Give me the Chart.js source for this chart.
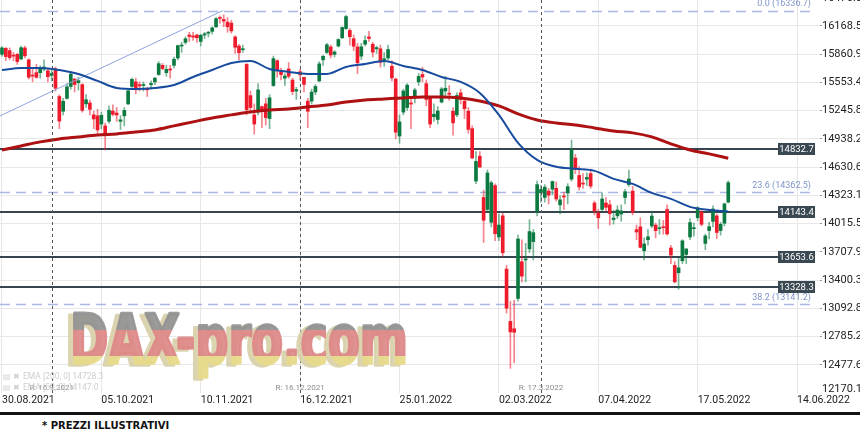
<!DOCTYPE html>
<html>
<head>
<meta charset="utf-8">
<script src="https://cdn.jsdelivr.net/npm/chart.js@4.4.1/dist/chart.umd.min.js"></script>
<style>
  body { margin: 0; background: #fff; width: 860px; height: 432px; overflow: hidden; }
  #wrap { position: relative; width: 860px; height: 410px; }
  #rule { height: 3px; background: #141414; margin-top: 2px; }
  #note { font: bold 10px "DejaVu Sans", sans-serif; color: #111; padding-left: 42px; margin-top: 5px; line-height: 12px; }
</style>
</head>
<body>
<div id="wrap"><canvas id="daxChart" width="860" height="410"></canvas></div>
<div id="rule"></div>
<div id="note">* PREZZI ILLUSTRATIVI</div>
<script>
// DAX daily candles, 30.08.2021 .. 27.05.2022 (index = trading day)
const opens = [
  15860,15925,15900,15850,15860,15810,15930,15800,15630,15660,
  15660,15700,15680,15630,15700,15400,15240,15380,15510,15590,
  15550,15530,15320,15330,15200,15190,15100,15080,15130,15240,
  15220,15130,15190,15320,15510,15560,15530,15520,15480,15530,
  15560,15640,15740,15660,15690,15740,15820,15950,15990,16070,
  16060,16070,16000,16070,16090,16110,16160,16260,16240,16210,
  16200,16050,15950,15910,15750,15410,15200,15230,15290,15320,
  15160,15520,15790,15670,15600,15700,15580,15460,15670,15610,
  15350,15350,15450,15570,15800,15880,15940,15860,15950,16040,
  16140,16120,16030,15940,15840,15970,16050,15970,15920,15920,
  15800,15820,15730,15590,14970,15230,15280,15330,15400,15560,
  15640,15540,15380,15180,15150,15340,15460,15430,15240,15200,
  15440,15350,15240,15050,14480,14750,14300,14170,14030,14430,
  13870,14100,13520,12950,12870,13200,13600,13620,13740,13820,
  14150,14350,14300,14370,14390,14400,14220,14310,14350,14500,
  14730,14540,14450,14500,14560,14240,14130,14170,14240,14220,
  14060,14100,14120,14300,14440,14370,13950,13980,13720,13840,
  13990,14000,13960,13980,14170,13750,13560,13480,13610,13680,
  13870,13960,14080,14140,13800,13940,14040,14100,13940,14020,
  14250
];
const highs = [
  15945,15935,15930,15880,15870,15950,15950,15810,15700,15750,
  15735,15800,15700,15700,15720,15420,15380,15540,15660,15600,
  15610,15540,15420,15360,15240,15260,15230,15110,15300,15310,
  15280,15190,15280,15470,15600,15600,15560,15560,15500,15570,
  15610,15780,15760,15740,15740,15830,15960,15990,16050,16100,
  16100,16080,16080,16100,16110,16160,16260,16280,16290,16260,
  16230,16060,15970,15960,15760,15460,15320,15540,15300,15380,
  15420,15840,15800,15710,15650,15770,15600,15500,15700,15610,
  15380,15480,15530,15780,15850,15980,15960,15900,16030,16160,
  16285,16140,16070,15980,15980,16060,16110,15990,15950,15960,
  15880,15960,15790,15600,15200,15480,15540,15400,15490,15650,
  15720,15580,15390,15320,15290,15500,15620,15520,15280,15440,
  15480,15390,15280,15080,14800,14800,14380,14600,14480,14450,
  14120,14130,13560,13170,13180,13890,13840,13800,14060,13950,
  14480,14430,14440,14400,14480,14470,14320,14360,14450,14925,
  14770,14640,14560,14570,14610,14260,14170,14350,14300,14270,
  14160,14210,14220,14390,14600,14420,14000,14080,13860,13950,
  14150,14020,14060,14050,14220,13780,13600,13640,13840,13740,
  14070,14020,14200,14170,13900,14030,14210,14120,14030,14240,
  14480
];
const lows = [
  15840,15790,15800,15790,15750,15800,15820,15590,15560,15600,
  15600,15680,15560,15570,15460,15050,15200,15370,15480,15450,
  15470,15230,15280,15200,15050,15000,15050,14818,15110,15190,
  15130,15040,15080,15310,15500,15430,15460,15460,15400,15480,
  15530,15630,15690,15620,15600,15710,15800,15880,15970,16000,
  16010,15990,15950,16030,16050,16080,16150,16200,16160,16100,
  16090,15870,15800,15880,15200,15240,14990,15200,15060,15090,
  15050,15510,15610,15580,15520,15600,15420,15370,15580,15450,
  15060,15320,15420,15560,15740,15870,15820,15830,15940,16030,
  16130,15960,15900,15650,15800,15950,16000,15830,15870,15720,
  15730,15800,15570,14940,14890,15200,15250,15050,15330,15520,
  15560,15300,15060,15130,15100,15330,15400,15360,14980,15180,
  15320,15160,15000,14720,14450,14630,13810,14150,13980,13830,
  13830,13660,13040,12439,12500,13170,13380,13380,13700,13620,
  14100,14250,14250,14230,14330,14260,14120,14170,14230,14480,
  14560,14380,14400,14430,14400,14110,13960,14150,14150,14000,
  14010,14070,14040,14230,14420,14110,13840,13750,13620,13780,
  13970,13860,13900,13900,13890,13580,13370,13300,13580,13580,
  13840,13880,14050,13990,13730,13850,13980,13850,13890,13990,
  14240
];
const closes = [
  15930,15835,15824,15840,15781,15932,15843,15610,15623,15609,
  15701,15722,15616,15651,15490,15132,15348,15506,15644,15531,
  15573,15249,15365,15260,15156,15036,15195,14973,15251,15206,
  15199,15146,15249,15462,15587,15474,15516,15523,15473,15543,
  15600,15758,15705,15696,15689,15806,15955,15960,16030,16054,
  16047,16040,16067,16083,16094,16148,16248,16251,16221,16160,
  16115,15937,15878,15917,15257,15280,15100,15472,15263,15170,
  15386,15813,15687,15639,15623,15621,15454,15476,15636,15532,
  15239,15448,15510,15756,15838,15964,15853,15885,16021,16152,
  16271,16052,15948,15768,15942,16010,16032,15883,15933,15773,
  15810,15912,15603,15011,15123,15460,15524,15318,15471,15619,
  15613,15368,15100,15207,15242,15482,15490,15425,15113,15412,
  15370,15267,15042,14731,14693,14631,14052,14567,14461,13905,
  14000,13698,13094,12835,12832,13848,13443,13628,13929,13917,
  14440,14388,14413,14326,14474,14284,14274,14306,14418,14821,
  14606,14415,14446,14519,14424,14152,14079,14284,14193,14124,
  14076,14164,14154,14363,14502,14142,13924,13757,13794,13872,
  14098,13939,13970,13971,13903,13674,13381,13534,13828,13740,
  14027,13964,14186,14008,13882,13982,14175,13919,14008,14231,
  14462
];

// EMA values every 5 trading days
const emaIdx = [0,5,10,15,20,25,30,35,40,45,50,55,60,65,70,75,80,85,90,95,
                100,105,110,115,120,125,130,135,140,145,150,155,160,165,170,175,180,185,190];
const ema50 = [15689,15711,15711,15689,15646,15570,15494,15483,15494,15526,15613,15689,15766,15787,15700,15668,15646,15646,15722,15755,
               15787,15733,15689,15613,15559,15439,15200,14895,14710,14634,14612,14590,14503,14448,14350,14285,14198,14165,14147.0];
const ema200 = [14818,14862,14906,14938,14960,14982,14993,15014,15036,15080,15124,15167,15200,15232,15254,15265,15287,15308,15341,15363,
                15374,15385,15395,15395,15385,15352,15298,15211,15145,15112,15091,15058,15025,15004,14960,14884,14818,14775,14728.3];

// trend line
const trendX = [-0.52, 57.8];
const trendY = [15189, 16336.7];

// levels
const fibLevels = [16336.7, 14362.5, 13141.2];
const fibNames = ['0.0', '23.6', '38.2'];
const supportLevels = [14832.7, 14143.4, 13653.6, 13328.3];

// reversal markers
const rIdx = [13, 78, 141];
const rLabels = ['R: 16.9.2021', 'R: 16.12.2021', 'R: 17.3.2022'];

// axes
const xTickIdx = [0, 26, 52, 78, 104, 130, 156, 182, 208];
const xLabels = ['30.08.2021', '05.10.2021', '10.11.2021', '16.12.2021', '25.01.2022',
                 '02.03.2022', '07.04.2022', '17.05.2022', '14.06.2022'];
const yTicks = [12170.1, 12477.6, 12785.2, 13092.8, 13400.3, 13707.9, 14015.5, 14323.1,
                14630.6, 14938.2, 15245.8, 15553.4, 15860.9, 16168.5, 16476.0];
const yMin = 12170.1, yMax = 16451.6;

const watermark = 'DAX-pro.com';

Chart.defaults.font.family = 'Roboto, "DejaVu Sans", sans-serif';

const upColor = '#0c7a40', downColor = '#ee1b2c';
const upWick = 'rgba(12,122,64,0.55)', downWick = 'rgba(238,27,44,0.55)';
const isUp = i => closes[i] >= opens[i];

const overlay = {
  id: 'overlay',
  beforeDatasetsDraw(chart) {
    const { ctx, chartArea: a, scales: { y } } = chart;
    ctx.save();
    ctx.lineWidth = 1.5;
    ctx.strokeStyle = '#a9b8e4';
    ctx.setLineDash([10, 6]);
    fibLevels.forEach(v => {
      const py = Math.round(y.getPixelForValue(v)) + 0.5;
      ctx.beginPath(); ctx.moveTo(a.left, py); ctx.lineTo(a.right - 8, py); ctx.stroke();
    });
    ctx.setLineDash([]);
    ctx.lineWidth = 2;
    ctx.strokeStyle = '#36454f';
    supportLevels.forEach(v => {
      const py = Math.round(y.getPixelForValue(v));
      ctx.beginPath(); ctx.moveTo(a.left, py); ctx.lineTo(a.right - 42, py); ctx.stroke();
    });
    ctx.restore();
  },
  afterDatasetsDraw(chart) {
    const { ctx, chartArea: a, scales: { x, y } } = chart;
    ctx.save();

    // reversal lines
    ctx.strokeStyle = '#555';
    ctx.lineWidth = 1;
    ctx.setLineDash([3, 3]);
    rIdx.forEach(i => {
      const px = Math.round(x.getPixelForValue(i)) + 0.5;
      ctx.beginPath(); ctx.moveTo(px, a.top); ctx.lineTo(px, a.bottom); ctx.stroke();
    });
    ctx.setLineDash([]);

    // watermark
    ctx.font = 'bold 68px "DejaVu Sans"';
    ctx.textBaseline = 'alphabetic';
    ctx.textAlign = 'left';
    ctx.lineJoin = 'round';
    const sx = 338 / ctx.measureText(watermark).width;
    const g = ctx.createLinearGradient(0, -50, 0, 13);
    g.addColorStop(0, '#939393'); g.addColorStop(0.27, '#939393');
    g.addColorStop(0.27, '#de8888'); g.addColorStop(0.68, '#de8888');
    g.addColorStop(0.68, '#e7da8a'); g.addColorStop(1, '#e7da8a');
    const wm = (dx, dy, fill) => {
      ctx.save();
      ctx.translate(70 + dx, 363 + dy);
      ctx.scale(sx, 1);
      ctx.fillStyle = fill;
      ctx.strokeStyle = fill;
      ctx.lineWidth = 3.5;
      ctx.strokeText(watermark, 0, 0);
      ctx.fillText(watermark, 0, 0);
      ctx.restore();
    };
    ctx.globalAlpha = 0.92;
    wm(-5, 2, '#d9d1ab');
    wm(0, 0, g);
    ctx.globalAlpha = 1;

    // fib labels
    ctx.font = '9px Roboto';
    ctx.fillStyle = '#7e95c9';
    ctx.textAlign = 'right';
    ctx.textBaseline = 'bottom';
    fibLevels.forEach((v, k) => {
      const py = y.getPixelForValue(v);
      ctx.fillText(`${fibNames[k]} (${v.toFixed(1)})`, a.right - 9, py - 2);
    });

    // support boxes
    ctx.textAlign = 'center';
    ctx.textBaseline = 'middle';
    ctx.font = '9.5px Roboto';
    supportLevels.forEach(v => {
      const py = Math.round(y.getPixelForValue(v));
      ctx.fillStyle = '#3a4852';
      ctx.fillRect(a.right - 42, py - 6, 37, 12);
      ctx.fillStyle = '#fff';
      ctx.fillText(v.toFixed(1), a.right - 23.5, py + 0.5);
    });

    // reversal labels
    ctx.font = '8px Roboto';
    ctx.fillStyle = '#8c8c8c';
    rIdx.forEach((i, k) => {
      ctx.fillText(rLabels[k], x.getPixelForValue(i), a.bottom - 5);
    });

    // faint indicator legend
    ctx.textAlign = 'left';
    ctx.font = '8.5px Roboto';
    ctx.fillStyle = '#cfcfcf';
    ctx.fillText(`EMA [200, 0] ${ema200[ema200.length - 1].toFixed(1)}`, 23, a.bottom - 16);
    ctx.fillText(`EMA [50, 0] ${ema50[ema50.length - 1].toFixed(1)}`, 23, a.bottom - 5);
    ctx.font = '8px "DejaVu Sans"';
    ctx.fillText('\u25A4 \u2716', 3, a.bottom - 16);
    ctx.fillText('\u25A4 \u2716', 3, a.bottom - 5);

    // outer price labels (top one cut by the frame, bottom one raised above the dates)
    ctx.font = '11px Roboto';
    ctx.fillStyle = '#222';
    ctx.fillText(yTicks[0].toFixed(1), a.right + 2, a.bottom - 4);
    ctx.fillText(yTicks[yTicks.length - 1].toFixed(1), a.right + 2, y.getPixelForValue(yTicks[yTicks.length - 1]));
    ctx.restore();
  }
};

new Chart(document.getElementById('daxChart'), {
  type: 'bar',
  data: {
    datasets: [
      {
        type: 'line', label: 'EMA 50',
        data: emaIdx.map((i, k) => ({ x: i, y: ema50[k] })),
        borderColor: '#164b9e', borderWidth: 2, pointRadius: 0,
        cubicInterpolationMode: 'monotone', order: 0
      },
      {
        type: 'line', label: 'EMA 200',
        data: emaIdx.map((i, k) => ({ x: i, y: ema200[k] })),
        borderColor: '#ad1111', borderWidth: 3, pointRadius: 0,
        cubicInterpolationMode: 'monotone', order: 0
      },
      {
        type: 'line', label: 'Trend',
        data: trendX.map((v, k) => ({ x: v, y: trendY[k] })),
        borderColor: '#8ea3e0', borderWidth: 1, pointRadius: 0, order: 1
      },
      {
        label: 'Wick',
        data: lows.map((l, i) => ({ x: i, y: [l, highs[i]] })),
        backgroundColor: c => isUp(c.dataIndex) ? upWick : downWick,
        barThickness: 1, grouped: false, order: 3
      },
      {
        label: 'Body',
        data: opens.map((o, i) => ({ x: i, y: [o, closes[i]] })),
        backgroundColor: c => isUp(c.dataIndex) ? upColor : downColor,
        barThickness: 3, minBarLength: 1, grouped: false, order: 2
      }
    ]
  },
  options: {
    responsive: false,
    animation: false,
    layout: { padding: 0 },
    plugins: { legend: { display: false }, tooltip: { enabled: false } },
    scales: {
      x: {
        type: 'linear', min: -0.52, max: 214, offset: false,
        afterBuildTicks: s => { s.ticks = xTickIdx.map(v => ({ value: v })); },
        afterFit: s => { s.height = 17; },
        ticks: {
          align: 'start', maxRotation: 0, autoSkip: false, padding: 1,
          color: '#222', font: { size: 10.5 },
          callback: v => xLabels[xTickIdx.indexOf(v)]
        },
        grid: { color: '#e6e6e6', tickLength: 0, offset: false },
        border: { display: false }
      },
      y: {
        position: 'right', min: yMin, max: yMax,
        afterBuildTicks: s => { s.ticks = yTicks.filter(v => v > yMin && v < yMax).map(v => ({ value: v })); },
        afterFit: s => { s.width = 40; s.paddingTop = 0; s.paddingBottom = 0; },
        ticks: {
          padding: 0, color: '#222', font: { size: 11 },
          callback: v => v.toFixed(1)
        },
        grid: { color: '#e8e8e8', tickLength: 2, tickColor: '#999' },
        border: { display: false }
      }
    }
  },
  plugins: [overlay]
});
</script>
</body>
</html>
